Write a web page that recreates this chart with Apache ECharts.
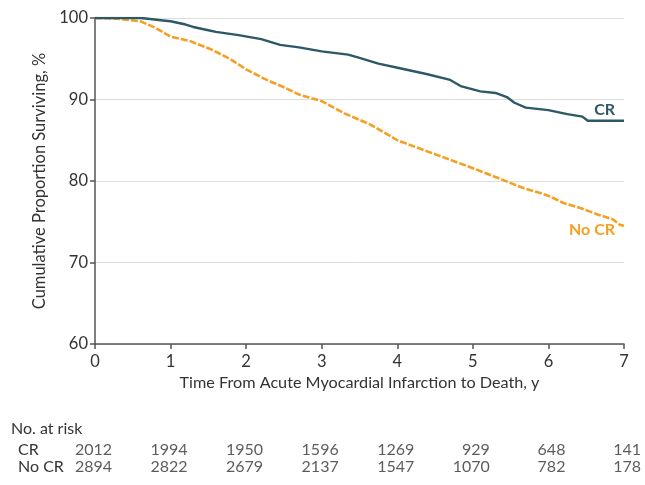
<!DOCTYPE html>
<html>
<head>
<meta charset="utf-8">
<script src="https://cdn.jsdelivr.net/npm/echarts@6/dist/echarts.min.js"></script>
<style>
  html, body { margin: 0; padding: 0; background: #fff; }
  #main { width: 645px; height: 485px; }
</style>
</head>
<body>
<div id="main"></div>
<script>
// survival curves: [years, percent surviving]
var crCurve = [[0,100],[0.6,100],[0.7,99.9],[0.9,99.7],[1.0,99.6],[1.2,99.2],[1.3,98.9],[1.5,98.5],[1.6,98.3],[1.9,97.9],
  [2.2,97.4],[2.45,96.7],[2.7,96.4],[3.0,95.9],[3.35,95.5],[3.5,95.1],[3.75,94.4],[4.05,93.8],[4.4,93.1],[4.7,92.4],
  [4.85,91.6],[5.1,91.0],[5.3,90.8],[5.45,90.3],[5.55,89.6],[5.7,89.0],[6.0,88.7],[6.25,88.2],[6.45,87.9],[6.52,87.4],[7,87.4]];
var noCrCurve = [[0,100],[0.3,99.9],[0.6,99.6],[0.8,98.8],[1.0,97.7],[1.25,97.2],[1.55,96.1],[1.8,94.9],[2.0,93.7],[2.25,92.5],
  [2.5,91.5],[2.7,90.6],[3.0,89.8],[3.3,88.3],[3.65,86.9],[4.0,85.0],[4.35,83.8],[4.7,82.6],[5.05,81.4],[5.35,80.3],
  [5.65,79.2],[6.0,78.2],[6.2,77.3],[6.45,76.6],[6.65,75.9],[6.85,75.3],[6.95,74.6],[7,74.5]];

// number at risk table
var riskYears = [0, 1, 2, 3, 4, 5, 6, 7];
var riskCR = [2012, 1994, 1950, 1596, 1269, 929, 648, 141];
var riskNoCR = [2894, 2822, 2679, 2137, 1547, 1070, 782, 178];

var tealColor = '#2d5866';
var orangeColor = '#f5a023';
var textColor = '#333';
var font = 'Lato';

var riskData = [];
for (var i = 0; i < riskYears.length; i++) {
  riskData.push({ value: [riskYears[i], 'CR', riskCR[i]] });
  riskData.push({ value: [riskYears[i], 'No CR', riskNoCR[i]] });
}

var myChart = echarts.init(document.getElementById('main'));
var option = {
  animation: false,
  title: {
    text: 'No. at risk',
    left: 6, top: 416,
    textStyle: { fontFamily: font, fontSize: 16, fontWeight: 'normal', color: textColor }
  },
  grid: [
    { left: 95, right: 21, top: 18, bottom: 141 },
    { left: 95, right: 21, top: 441, height: 35 }
  ],
  xAxis: [{
    type: 'value', gridIndex: 0, min: 0, max: 7, interval: 1,
    name: 'Time From Acute Myocardial Infarction to Death, y',
    nameLocation: 'middle', nameGap: 30,
    nameTextStyle: { fontFamily: font, fontSize: 16.2, color: textColor },
    axisLine: { show: true, lineStyle: { color: '#555', width: 1.5 } },
    axisTick: { show: true, length: 5, lineStyle: { color: '#555', width: 1.5 } },
    axisLabel: { fontFamily: font, fontSize: 16.5, color: textColor, margin: 9 },
    splitLine: { show: false }
  }, {
    type: 'value', gridIndex: 1, min: 0, max: 7, interval: 1,
    axisLine: { show: false }, axisTick: { show: false },
    axisLabel: { show: false }, splitLine: { show: false }
  }],
  yAxis: [{
    type: 'value', gridIndex: 0, min: 60, max: 100, interval: 10,
    name: 'Cumulative Proportion Surviving, %',
    nameLocation: 'middle', nameGap: 41,
    nameTextStyle: { fontFamily: font, fontSize: 16.5, color: textColor },
    axisLine: { show: true, lineStyle: { color: '#555', width: 1.5 } },
    axisTick: { show: true, length: 5, lineStyle: { color: '#555', width: 1.5 } },
    axisLabel: { fontFamily: font, fontSize: 16.5, color: textColor, margin: 7 },
    splitLine: { show: true, lineStyle: { color: '#dedede', width: 1 } }
  }, {
    type: 'category', gridIndex: 1, inverse: true,
    data: ['CR', 'No CR'],
    axisLine: { show: false }, axisTick: { show: false }, splitLine: { show: false },
    axisLabel: { interval: 0, fontFamily: font, fontSize: 16, color: textColor, align: 'left', margin: 77 }
  }],
  series: [{
    name: 'No CR', type: 'line', xAxisIndex: 0, yAxisIndex: 0,
    data: noCrCurve, symbol: 'none',
    lineStyle: { color: orangeColor, width: 2.6, type: [7, 2] },
    endLabel: {
      show: true, formatter: 'No CR', color: orangeColor, align: 'right',
      fontFamily: font, fontSize: 16, fontWeight: 'bold', offset: [-17, 4]
    }
  }, {
    name: 'CR', type: 'line', xAxisIndex: 0, yAxisIndex: 0,
    data: crCurve, symbol: 'none',
    lineStyle: { color: tealColor, width: 2.4 },
    endLabel: {
      show: true, formatter: 'CR', color: tealColor, align: 'right',
      fontFamily: font, fontSize: 16, fontWeight: 'bold', offset: [-17, -11]
    }
  }, {
    name: 'at risk', type: 'scatter', xAxisIndex: 1, yAxisIndex: 1,
    data: riskData, symbolSize: 0,
    label: {
      show: true, position: 'inside', align: 'right', offset: [17, 0],
      fontFamily: font, fontSize: 16, color: textColor,
      formatter: function (p) { return p.value[2]; }
    }
  }]
};
myChart.setOption(option);
</script>
</body>
</html>
